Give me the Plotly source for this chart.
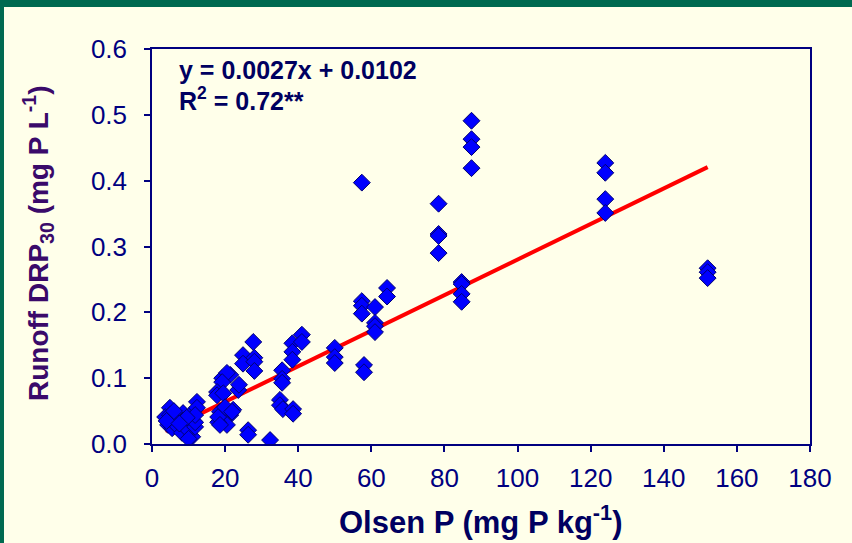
import plotly.graph_objects as go

# ---- data ----
olsen_p = [
    4.9, 3.6, 4.9, 6.8, 8.5, 10.4, 4.4, 6.3, 8.5, 9.6, 5.5, 7.1, 8.2, 11.0, 9.9, 11.8, 11.8, 4.0, 6.0, 10.0,
    12.3, 12.3, 11.8, 9.5, 7.5,
    19.2, 21.4, 20.5, 19.2, 17.8, 17.8, 19.5, 23.6, 23.8, 22.2, 18.6, 21.4, 19.5, 20.5, 18.1, 18.1, 20.0,
    21.9, 18.6,
    24.9, 24.9, 28.0, 28.0, 28.0, 27.7, 26.3, 26.3,
    32.3,
    35.6, 35.6, 35.6, 35.0, 35.0, 35.8, 38.6, 38.6, 38.4, 38.4, 38.4, 41.0, 41.0,
    50.0, 50.0, 50.0,
    57.4, 57.4, 57.4, 57.4, 58.0, 58.0,
    61.0, 61.0, 61.0, 61.0,
    64.3, 64.3,
    78.4, 78.4, 78.4, 78.4,
    84.7, 84.7, 84.7, 84.7,
    87.4, 87.4, 87.4, 87.4,
    124.0, 124.0, 124.0, 124.0,
    152.0, 152.0, 152.0,
]
drp30 = [
    0.055, 0.041, 0.044, 0.044, 0.047, 0.044, 0.029, 0.036, 0.036, 0.026, 0.024, 0.026, 0.017, 0.011, 0.021,
    0.026, 0.033, 0.035, 0.050, 0.008,
    0.064, 0.055, 0.044, 0.040, 0.031,
    0.100, 0.105, 0.108, 0.094, 0.079, 0.074, 0.077, 0.082, 0.090, 0.052, 0.049, 0.044, 0.036, 0.029, 0.033,
    0.041, 0.056, 0.049, 0.029,
    0.135, 0.122, 0.131, 0.125, 0.111, 0.155, 0.021, 0.014,
    0.006,
    0.112, 0.099, 0.093, 0.067, 0.059, 0.053, 0.053, 0.046, 0.153, 0.140, 0.128, 0.166, 0.155,
    0.146, 0.132, 0.123,
    0.397, 0.217, 0.210, 0.198, 0.120, 0.109,
    0.208, 0.184, 0.179, 0.170,
    0.237, 0.224,
    0.365, 0.319, 0.316, 0.290,
    0.246, 0.243, 0.228, 0.216,
    0.491, 0.463, 0.451, 0.419,
    0.427, 0.412, 0.372, 0.351,
    0.267, 0.261, 0.252,
]
slope = 0.0027
intercept = 0.0102
x_ticks = [0, 20, 40, 60, 80, 100, 120, 140, 160, 180]
y_ticks = [0.0, 0.1, 0.2, 0.3, 0.4, 0.5, 0.6]

# ---- style ----
W, H = 852, 543
ML, MR, MT, MB = 152, 42, 49, 99
PW, PH = W - ML - MR, H - MT - MB
BG = "#FFFFEA"
GREEN = "#006A50"
NAVY = "#000080"
FONT = "Liberation Sans, Arial, sans-serif"

x_line = [min(olsen_p), max(olsen_p)]
y_line = [slope * v + intercept for v in x_line]

fig = go.Figure()
fig.add_trace(go.Scatter(x=x_line, y=y_line, mode="lines",
                         line=dict(color="#FF0000", width=4), hoverinfo="skip"))
fig.add_trace(go.Scatter(x=olsen_p, y=drp30, mode="markers",
                         marker=dict(symbol="diamond", size=13, color="#0000FF",
                                     line=dict(color="#000070", width=1))))

axis_common = dict(showgrid=False, zeroline=False, showline=True, linecolor=NAVY, linewidth=1.5,
                   mirror=True, ticks="outside", ticklen=6, tickcolor=NAVY, tickwidth=1.5,
                   tickfont=dict(family=FONT, size=26, color=NAVY))

fig.update_layout(
    width=W, height=H,
    margin=dict(l=ML, r=MR, t=MT, b=MB, pad=0),
    paper_bgcolor=BG, plot_bgcolor=BG,
    showlegend=False,
    xaxis=dict(range=[0, 180], tickvals=x_ticks, ticktext=[str(v) for v in x_ticks],
               ticklabelstandoff=4, **axis_common),
    yaxis=dict(range=[0, 0.6], tickvals=y_ticks, ticktext=[f"{v:.1f}" for v in y_ticks],
               ticklabelstandoff=12, **axis_common),
    annotations=[
        dict(text=f"<b>y = {slope}x + {intercept}</b>", xref="paper", yref="paper",
             x=(177 - ML) / PW, y=1 - (70 - MT) / PH, xanchor="left", yanchor="middle",
             showarrow=False, font=dict(family=FONT, size=25, color="#000060")),
        dict(text="<b>R<sup>2</sup> = 0.72**</b>", xref="paper", yref="paper",
             x=(177 - ML) / PW, y=1 - (99 - MT) / PH, xanchor="left", yanchor="middle",
             showarrow=False, font=dict(family=FONT, size=25, color="#000060")),
        dict(text="<b>Olsen P (mg P kg<sup>-1</sup>)</b>", xref="paper", yref="paper",
             x=(480 - ML) / PW, y=-(520 - MT - PH) / PH, xanchor="center", yanchor="middle",
             showarrow=False, font=dict(family=FONT, size=31, color="#000060")),
        dict(text="<b>Runoff DRP<sub>30</sub> (mg P L<sup>-1</sup>)</b>", xref="paper", yref="paper",
             x=-(ML - 38) / PW, y=1 - (243 - MT) / PH, xanchor="center", yanchor="middle",
             textangle=-90, showarrow=False, font=dict(family=FONT, size=28, color="#3A0A6A")),
    ],
    shapes=[
        dict(type="rect", xref="paper", yref="paper", x0=-ML / PW, x1=(W - ML) / PW,
             y0=1 + (MT - 7) / PH, y1=1 + MT / PH, fillcolor=GREEN, line=dict(width=0), layer="below"),
        dict(type="rect", xref="paper", yref="paper", x0=-ML / PW, x1=-(ML - 4) / PW,
             y0=-MB / PH, y1=1 + MT / PH, fillcolor=GREEN, line=dict(width=0), layer="below"),
    ],
)

fig.write_html("out.html")
